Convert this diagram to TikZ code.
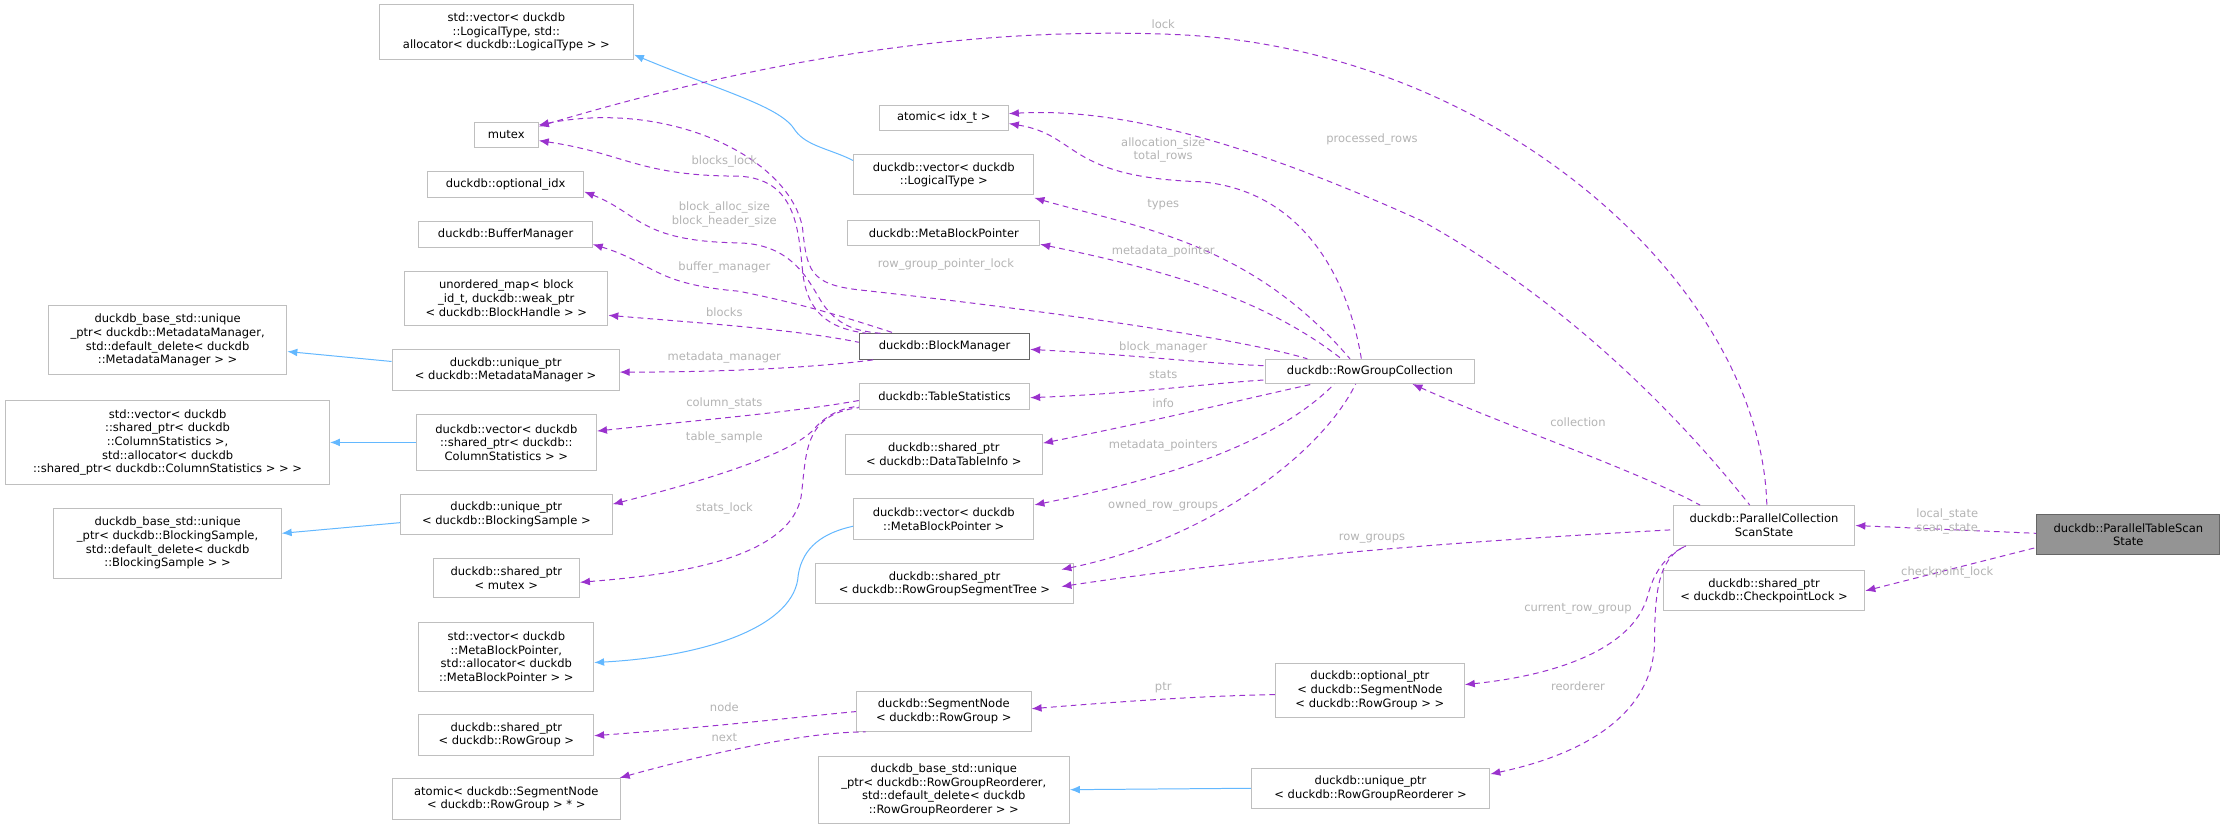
\documentclass[tikz,border=0pt]{standalone}
\usepackage{fontspec}
\setmainfont{DejaVu Sans}
\usetikzlibrary{arrows.meta}
\definecolor{purp}{HTML}{9A32CD}
\definecolor{bl}{HTML}{63B8FF}
\definecolor{bx}{HTML}{BFBFBF}
\definecolor{lb}{HTML}{B4B4B4}
\tikzset{
 box/.style={draw=bx,line width=0.7pt,inner sep=0pt,align=center,font=\fontsize{8.1}{9.6}\selectfont},
 dep/.style={draw=purp,line width=0.7pt,dash pattern=on 4pt off 3pt,{Latex[length=7pt,width=5.5pt]}-},
 inh/.style={draw=bl,line width=0.7pt,{Latex[length=7pt,width=5.5pt]}-},
 lab/.style={text=lb,inner sep=0pt,align=center,font=\fontsize{8.1}{9.6}\selectfont},
}
\begin{document}
\begin{tikzpicture}[x=1pt,y=-1pt]
\useasboundingbox (0,0) rectangle (1568,581);
\fill[white] (0,0) rectangle (1568,581);
% left column
\node[box,minimum width=179,minimum height=39] (stdvecLT) at (356.5,22.5) {std::vector< duckdb\\::LogicalType, std::\\allocator< duckdb::LogicalType > >};
\node[box,minimum width=45,minimum height=18] (mutex) at (356.5,95) {mutex};
\node[box,minimum width=110,minimum height=18] (optidx) at (356,130) {duckdb::optional\_idx};
\node[box,minimum width=122,minimum height=18] (bufmgr) at (356,165) {duckdb::BufferManager};
\node[box,minimum width=143,minimum height=38] (umap) at (356.5,210) {unordered\_map< block\\\_id\_t, duckdb::weak\_ptr\\< duckdb::BlockHandle > >};
\node[box,minimum width=168,minimum height=49] (baseMM) at (118,239.5) {duckdb\_base\_std::unique\\\_ptr< duckdb::MetadataManager,\\ std::default\_delete< duckdb\\::MetadataManager > >};
\node[box,minimum width=160,minimum height=29] (uptrMM) at (356,260.5) {duckdb::unique\_ptr\\< duckdb::MetadataManager >};
\node[box,minimum width=228,minimum height=59] (stdvecCS) at (118,311.5) {std::vector< duckdb\\::shared\_ptr< duckdb\\::ColumnStatistics >,\\ std::allocator< duckdb\\::shared\_ptr< duckdb::ColumnStatistics > > >};
\node[box,minimum width=127,minimum height=39] (vecCS) at (356.5,311.5) {duckdb::vector< duckdb\\::shared\_ptr< duckdb::\\ColumnStatistics > >};
\node[box,minimum width=149,minimum height=28] (uptrBS) at (356.5,362) {duckdb::unique\_ptr\\< duckdb::BlockingSample >};
\node[box,minimum width=160,minimum height=49] (baseBS) at (118,382.5) {duckdb\_base\_std::unique\\\_ptr< duckdb::BlockingSample,\\ std::default\_delete< duckdb\\::BlockingSample > >};
\node[box,minimum width=103,minimum height=28] (sptrMtx) at (356.5,407) {duckdb::shared\_ptr\\< mutex >};
\node[box,minimum width=123,minimum height=49] (stdvecMBP) at (356.5,462.5) {std::vector< duckdb\\::MetaBlockPointer,\\ std::allocator< duckdb\\::MetaBlockPointer > >};
\node[box,minimum width=123,minimum height=29] (sptrRG) at (356.5,517.5) {duckdb::shared\_ptr\\< duckdb::RowGroup >};
\node[box,minimum width=161,minimum height=29] (atomicSN) at (356.5,562.5) {atomic< duckdb::SegmentNode\\< duckdb::RowGroup > * >};
% middle column
\node[box,minimum width=91,minimum height=18] (atomic) at (664.5,83) {atomic< idx\_t >};
\node[box,minimum width=127,minimum height=28] (vecLT) at (664.5,123) {duckdb::vector< duckdb\\::LogicalType >};
\node[box,minimum width=135,minimum height=18] (MBP) at (664.5,164) {duckdb::MetaBlockPointer};
\node[box,draw=black!60,minimum width=120,minimum height=18] (BM) at (665,244) {duckdb::BlockManager};
\node[box,minimum width=120,minimum height=18] (TS) at (665,279) {duckdb::TableStatistics};
\node[box,minimum width=139,minimum height=28] (sptrDTI) at (664.5,320) {duckdb::shared\_ptr\\< duckdb::DataTableInfo >};
\node[box,minimum width=127,minimum height=29] (vecMBP) at (664.5,365.5) {duckdb::vector< duckdb\\::MetaBlockPointer >};
\node[box,minimum width=182,minimum height=28] (sptrRGST) at (665,411) {duckdb::shared\_ptr\\< duckdb::RowGroupSegmentTree >};
\node[box,minimum width=123,minimum height=28] (SN) at (664.5,501) {duckdb::SegmentNode\\< duckdb::RowGroup >};
\node[box,minimum width=177,minimum height=47] (baseRGR) at (664.5,556) {duckdb\_base\_std::unique\\\_ptr< duckdb::RowGroupReorderer,\\ std::default\_delete< duckdb\\::RowGroupReorderer > >};
% right
\node[box,minimum width=147,minimum height=17] (RGC) at (964.5,261.5) {duckdb::RowGroupCollection};
\node[box,minimum width=133,minimum height=38] (optSN) at (964.5,486) {duckdb::optional\_ptr\\< duckdb::SegmentNode\\< duckdb::RowGroup > >};
\node[box,minimum width=168,minimum height=28] (uptrRGR) at (965,555) {duckdb::unique\_ptr\\< duckdb::RowGroupReorderer >};
\node[box,minimum width=128,minimum height=28] (PCSS) at (1242,370) {duckdb::ParallelCollection\\ScanState};
\node[box,minimum width=142,minimum height=28] (sptrCL) at (1242,416) {duckdb::shared\_ptr\\< duckdb::CheckpointLock >};
\node[box,draw=black!60,fill=black!42,minimum width=129,minimum height=28] (PTSS) at (1498.5,376.5) {duckdb::ParallelTableScan\\State};
% inheritance
\draw[inh] ([yshift=-16]stdvecLT.east) .. controls (510,65) and (550,75) .. (560,92) .. controls (568,103) and (585,105) .. ([yshift=10]vecLT.west);
\draw[inh] ([yshift=-8]baseMM.east) -- ([yshift=6]uptrMM.west);
\draw[inh] (stdvecCS.east) -- (vecCS.west);
\draw[inh] ([yshift=7]baseBS.east) -- ([yshift=-6]uptrBS.west);
\draw[inh] ([yshift=-4]stdvecMBP.east) .. controls (500,462) and (560,440) .. (562,405) .. controls (565,385) and (580,375) .. ([yshift=-5]vecMBP.west);
\draw[inh] (baseRGR.east) -- (uptrRGR.west);
% PCSS edges
\draw[dep] ([yshift=6]mutex.east) .. controls (560,35) and (700,20) .. (819,24) .. controls (1050,30) and (1240,200) .. ([xshift=2]PCSS.north);
\draw[dep] ([yshift=3]atomic.east) .. controls (800,75) and (900,110) .. (1000,155) .. controls (1100,210) and (1180,290) .. ([xshift=-10]PCSS.north);
\draw[dep] ([xshift=30]RGC.south) .. controls (1060,300) and (1150,330) .. ([xshift=-45]PCSS.north);
\draw[dep] ([xshift=-9,yshift=-2]sptrRGST.east) .. controls (900,390) and (1050,380) .. ([yshift=-3]PCSS.west);
\draw[dep] ([yshift=4]optSN.east) .. controls (1100,475) and (1150,455) .. (1160,420) .. controls (1165,400) and (1175,390) .. ([xshift=-55]PCSS.south);
\draw[dep] ([yshift=10]uptrRGR.east) .. controls (1120,530) and (1165,500) .. (1165,450) .. controls (1165,410) and (1170,392) .. ([xshift=-55]PCSS.south);
\draw[dep] (PCSS.east) -- ([yshift=1]PTSS.west);
\draw[dep] (sptrCL.east) -- ([yshift=-9]PTSS.west);
% RGC edges
\draw[dep] ([yshift=-4]atomic.east) .. controls (760,95) and (750,125) .. (846,128) .. controls (920,135) and (950,200) .. ([xshift=-6]RGC.north);
\draw[dep] ([yshift=-2]vecLT.south east) .. controls (800,160) and (880,170) .. ([xshift=-14]RGC.north);
\draw[dep] ([yshift=-8]MBP.east) .. controls (820,190) and (890,210) .. ([xshift=-20]RGC.north);
\draw[dep] ([yshift=7]mutex.east) .. controls (470,70) and (555,110) .. (565,160) .. controls (568,190) and (570,200) .. (604,204) .. controls (750,220) and (880,240) .. ([xshift=-44]RGC.north);
\draw[dep] ([yshift=-2]BM.east) .. controls (800,250) and (850,256) .. ([yshift=4]RGC.west);
\draw[dep] ([yshift=-1]TS.east) .. controls (800,277) and (850,270) .. ([yshift=-6]RGC.west);
\draw[dep] ([yshift=8]sptrDTI.east) .. controls (820,295) and (880,280) .. ([xshift=-40]RGC.south);
\draw[dep] ([yshift=10]vecMBP.east) .. controls (830,335) and (900,310) .. ([xshift=-25]RGC.south);
\draw[dep] ([xshift=-9,yshift=10]sptrRGST.east) .. controls (850,380) and (930,320) .. ([xshift=-10]RGC.south);
% BM edges
\draw[dep] ([yshift=-4]mutex.east) .. controls (440,108) and (450,124) .. (520,124) .. controls (560,126) and (562,160) .. (565,190) .. controls (568,225) and (590,232) .. ([xshift=-55]BM.north);
\draw[dep] ([yshift=-5]optidx.east) .. controls (450,150) and (450,170) .. (520,171) .. controls (560,172) and (570,200) .. (580,215) .. controls (590,228) and (600,233) .. ([xshift=-45]BM.north);
\draw[dep] ([yshift=-7]bufmgr.east) .. controls (460,185) and (460,200) .. (520,205) .. controls (570,215) and (600,225) .. ([xshift=-35]BM.north);
\draw[dep] ([yshift=-12]umap.east) .. controls (500,228) and (560,232) .. ([yshift=3]BM.west);
\draw[dep] ([yshift=-1.5]uptrMM.east) .. controls (520,262) and (580,258) .. ([xshift=-50]BM.south);
% TS edges
\draw[dep] ([yshift=8]vecCS.east) .. controls (500,295) and (560,290) .. ([yshift=-3]TS.west);
\draw[dep] ([yshift=7]uptrBS.east) .. controls (490,340) and (560,320) .. (575,300) .. controls (585,290) and (595,287) .. ([yshift=-7]TS.west);
\draw[dep] ([yshift=-3]sptrMtx.east) .. controls (470,405) and (555,395) .. (564,350) .. controls (568,320) and (565,292) .. ([yshift=-8]TS.west);
% SN edges
\draw[dep] ([yshift=-0.5]sptrRG.east) .. controls (500,512) and (560,505) .. (SN.west);
\draw[dep] ([xshift=-1]atomicSN.north east) .. controls (500,530) and (570,515) .. ([xshift=-55]SN.south);
\draw[dep] ([yshift=2]SN.east) .. controls (800,493) and (850,490) .. ([yshift=-3]optSN.west);
% labels
\node[lab] (l1) at (819,17) {lock};
\node[lab] (l2) at (966,98) {processed\_rows};
\node[lab] (l3) at (819,105.5) {allocation\_size\\total\_rows};
\node[lab] (l4) at (819,144) {types};
\node[lab] (l5) at (819,177) {metadata\_pointer};
\node[lab] (l6) at (666,186) {row\_group\_pointer\_lock};
\node[lab] (l7) at (819,245) {block\_manager};
\node[lab] (l8) at (819,264) {stats};
\node[lab] (l9) at (819,284) {info};
\node[lab] (l10) at (1111,297) {collection};
\node[lab] (l11) at (819,314) {metadata\_pointers};
\node[lab] (l12) at (819,356) {owned\_row\_groups};
\node[lab] (l13) at (966,379) {row\_groups};
\node[lab] (l14) at (1111,429) {current\_row\_group};
\node[lab] (l15) at (819,484) {ptr};
\node[lab] (l16) at (1111,483) {reorderer};
\node[lab] (l17) at (1371,367) {local\_state\\scan\_state};
\node[lab] (l18) at (1371,403) {checkpoint\_lock};
\node[lab] (l19) at (510,114) {blocks\_lock};
\node[lab] (l20) at (510,151) {block\_alloc\_size\\block\_header\_size};
\node[lab] (l21) at (510,188) {buffer\_manager};
\node[lab] (l22) at (510,220) {blocks};
\node[lab] (l23) at (510,252) {metadata\_manager};
\node[lab] (l24) at (510,284) {column\_stats};
\node[lab] (l25) at (510,308) {table\_sample};
\node[lab] (l26) at (510,358) {stats\_lock};
\node[lab] (l27) at (510,498) {node};
\node[lab] (l28) at (510,519) {next};
\end{tikzpicture}
\end{document}
